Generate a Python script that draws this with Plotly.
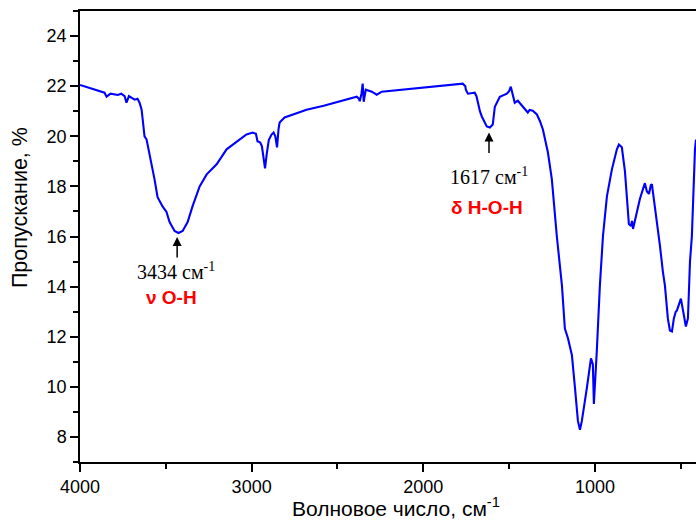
import plotly.graph_objects as go

wavenumber = [4000, 3940, 3857, 3845, 3822, 3780, 3760, 3740, 3729, 3715, 3700, 3682, 3665, 3653,
              3641, 3624, 3612, 3595, 3583, 3566, 3548, 3519, 3496, 3478, 3449, 3426, 3402, 3373,
              3344, 3303, 3262, 3204, 3146, 3088, 3030, 2994, 2975, 2966, 2950, 2940, 2930, 2922,
              2912, 2900, 2884, 2872, 2862, 2852, 2843, 2837, 2808, 2750, 2680, 2580, 2487, 2400,
              2388, 2375, 2370, 2360, 2353, 2347, 2340, 2335, 2300, 2271, 2242, 2180, 2096, 2030,
              1962, 1845, 1770, 1755, 1752, 1740, 1700, 1690, 1682, 1670, 1659, 1640, 1630, 1612,
              1595, 1583, 1554, 1513, 1500, 1490, 1478, 1467, 1449, 1435, 1420, 1405, 1397, 1391,
              1380, 1362, 1338, 1320, 1303, 1274, 1251, 1222, 1192, 1175, 1157, 1134, 1116, 1099,
              1087, 1076, 1047, 1023, 1012, 1006, 989, 971, 953, 930, 901, 872, 860, 843, 825, 813,
              802, 790, 784, 778, 761, 738, 709, 697, 685, 674, 668, 660, 656, 645, 621, 604, 592,
              575, 563, 551, 540, 529, 522, 499, 487, 470, 458, 446, 435, 423, 417, 411]
transmittance = [22.05, 21.92, 21.74, 21.58, 21.7, 21.65, 21.7, 21.6, 21.34, 21.6, 21.55, 21.46, 21.5, 21.34,
                 21.06, 20.0, 19.87, 19.3, 18.96, 18.29, 17.57, 17.2, 16.98, 16.58, 16.22, 16.14, 16.22, 16.58,
                 17.21, 18.0, 18.48, 18.88, 19.48, 19.79, 20.07, 20.15, 20.1, 19.8, 19.75, 19.6, 19.2, 18.72,
                 19.3, 19.85, 20.07, 20.15, 20.0, 19.56, 20.3, 20.55, 20.75, 20.9, 21.06, 21.22, 21.38, 21.55,
                 21.58, 21.5, 21.4, 21.7, 22.1, 21.38, 21.7, 21.86, 21.78, 21.66, 21.78, 21.82, 21.9, 21.93,
                 21.98, 22.05, 22.1, 22.0, 21.86, 21.7, 21.74, 21.6, 21.34, 21.0, 20.79, 20.5, 20.39, 20.35,
                 20.47, 21.18, 21.58, 21.7, 21.8, 21.98, 21.6, 21.34, 21.42, 21.3, 21.18, 21.05, 20.98, 20.95,
                 21.05, 21.02, 20.87, 20.6, 20.27, 19.36, 18.29, 16.02, 14.04, 12.33, 11.94, 11.26, 9.95, 8.64,
                 8.29, 8.64, 9.95, 11.14, 10.9, 9.32, 11.42, 14.04, 16.02, 17.6, 18.68, 19.48, 19.67, 19.56, 18.6, 17.6,
                 16.5, 16.42, 16.62, 16.3, 16.82, 17.5, 18.13, 17.8, 17.7, 18.05, 18.09, 17.7, 17.4, 17.0, 15.63, 14.6, 14.04,
                 12.73, 12.25, 12.21, 12.73, 13.0, 13.05, 13.52, 13.0, 12.41, 12.73, 15.0, 16.02, 18.68, 19.48, 19.87]

x_ticks = [4000, 3000, 2000, 1000]
y_ticks = [8, 10, 12, 14, 16, 18, 20, 22, 24]

peak_x = [3434, 1617]
peak_y = [15.98, 20.15]
peak_labels = ["3434 см<sup>-1</sup>", "1617 см<sup>-1</sup>"]
peak_label_pos = [(3440, 14.63), (1617, 18.4)]
band_labels = ["ν O-H", "δ H-O-H"]
band_label_pos = [(3466, 13.55), (1628, 17.15)]

x_title = "Волновое число, см<sup>-1</sup>"
y_title = "Пропускание, %"

sans = "Liberation Sans, Arial, sans-serif"
serif = "Liberation Serif, Times New Roman, serif"

fig = go.Figure()
fig.add_trace(go.Scatter(x=wavenumber, y=transmittance, mode="lines",
                         line=dict(color="#0000FF", width=2.1), showlegend=False))

for px, py in zip(peak_x, peak_y):
    fig.add_annotation(x=px, y=py, xref="x", yref="y", text="", showarrow=True,
                       ax=0, ay=22, arrowhead=2, arrowsize=1.2, arrowwidth=1.5, arrowcolor="black")
for t, (tx, ty) in zip(peak_labels, peak_label_pos):
    fig.add_annotation(x=tx, y=ty, xref="x", yref="y", text=t, showarrow=False,
                       font=dict(family=serif, size=20, color="black"))
for t, (tx, ty) in zip(band_labels, band_label_pos):
    fig.add_annotation(x=tx, y=ty, xref="x", yref="y", text="<b>" + t + "</b>", showarrow=False,
                       font=dict(family=sans, size=19, color="#FF0000"))

# axis titles
fig.add_annotation(x=0.513, y=0, xref="paper", yref="paper", text=x_title, showarrow=False,
                   yanchor="middle", xanchor="center", yshift=-45,
                   font=dict(family=sans, size=21, color="black"))
fig.add_annotation(x=0, y=0.563, xref="paper", yref="paper", text=y_title, showarrow=False,
                   textangle=-90, xanchor="center", yanchor="middle", xshift=-60,
                   font=dict(family=sans, size=21.5, color="black"))

fig.update_layout(
    width=696, height=522,
    margin=dict(l=80, r=0, t=11, b=60),
    plot_bgcolor="white", paper_bgcolor="white",
    font=dict(family=sans, size=18, color="black"),
    xaxis=dict(range=[4000, 411], tickvals=x_ticks, ticks="outside", ticklen=8, tickwidth=1.5,
               tickcolor="black", showline=True, linecolor="black", linewidth=1.5, mirror=True,
               showgrid=False, zeroline=False,
               minor=dict(tickvals=[3500, 2500, 1500, 500], ticks="outside", ticklen=5,
                          tickwidth=1.5, tickcolor="black", showgrid=False)),
    yaxis=dict(range=[7, 25], tickvals=y_ticks, ticks="outside", ticklen=8, tickwidth=1.5,
               tickcolor="black", showline=True, linecolor="black", linewidth=1.5,
               showgrid=False, zeroline=False,
               minor=dict(dtick=1, tick0=0, ticks="outside", ticklen=5,
                          tickwidth=1.5, tickcolor="black", showgrid=False)),
)

fig.write_html("out.html")
